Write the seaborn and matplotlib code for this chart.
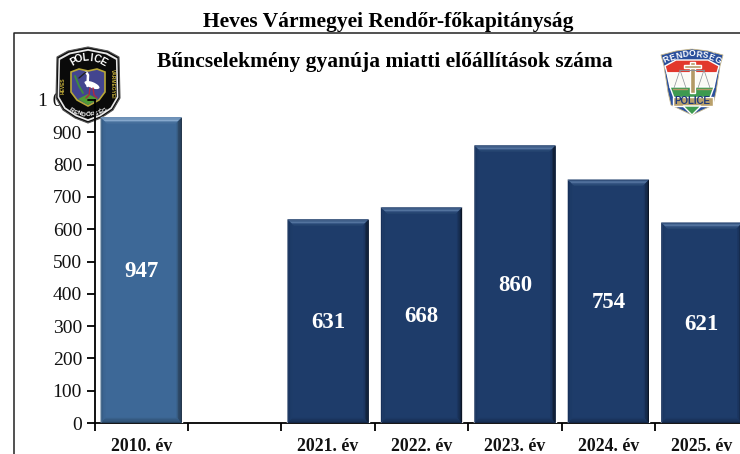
import numpy as np
import pandas as pd
import seaborn as sns
import matplotlib.pyplot as plt
from matplotlib.patches import Polygon, Ellipse, Rectangle

years = ["2010. év", " ", "2021. év", "2022. év", "2023. év", "2024. év", "2025. év"]
arrests = [947, np.nan, 631, 668, 860, 754, 621]
bar_colors = ["#3d6897", "#1e3c6a", "#1e3c6a", "#1e3c6a", "#1e3c6a", "#1e3c6a", "#1e3c6a"]
y_ticks = [0, 100, 200, 300, 400, 500, 600, 700, 800, 900, 1000]
y_labels = ["0", "100", "200", "300", "400", "500", "600", "700", "800", "900", "1 000"]

# bevel shades, outermost pixel first
bevel_light = {"top": ["#5a82ad", "#7da0c4", "#86a8cc", "#5f86b0", "#47709c"],
               "left": ["#33597f", "#375e88", "#3a6390", "#3c6694"],
               "right": ["#1c2c3e", "#25394f", "#2e4a68", "#365a80"],
               "bottom": ["#24405d", "#2f5070", "#34587e", "#38608a"]}
bevel_dark = {"top": ["#24426f", "#4a6a96", "#53739e", "#3a5a88", "#274772"],
              "left": ["#16305a", "#1a3662", "#1c3a66", "#1e3c68"],
              "right": ["#0b1526", "#101f38", "#162b4c", "#1b3560"],
              "bottom": ["#132646", "#172e52", "#1a345c", "#1c3864"]}

sns.set_theme(style="white")
plt.rcParams['font.family'] = ['Liberation Serif', 'DejaVu Serif']

W, H = 740, 454
fig = plt.figure(figsize=(W / 100, H / 100), dpi=100, facecolor="white")

# plot runs past the right edge of the picture, as in the original crop
ax = fig.add_axes([94.5 / W, (H - 423) / H, 654 / W, 323 / H], zorder=1)
df = pd.DataFrame({"year": years, "n": arrests})
sns.barplot(data=df, x="year", y="n", order=years, hue="year", hue_order=years,
            palette=bar_colors, width=0.87, saturation=1, legend=False, ax=ax)
ax.set_xlim(-0.5, 6.5)
ax.set_ylim(0, 1000)
ax.set_xlabel("")
ax.set_ylabel("")
ax.patch.set_alpha(0)
for s in ["top", "right"]:
    ax.spines[s].set_visible(False)
for s in ["left", "bottom"]:
    ax.spines[s].set_color("black")
    ax.spines[s].set_linewidth(1.3)
    ax.spines[s].set_zorder(2.8)

ax.set_yticks(y_ticks)
ax.set_yticklabels(y_labels, fontsize=14, color="#111111")
ax.tick_params(axis="y", length=6, width=1.3, color="black", left=True, pad=3)
ax.set_xticks(np.arange(-0.5, 7, 1))
ax.set_xticklabels([])
ax.set_xticks(np.arange(0, 7), minor=True)
ax.set_xticklabels(years, minor=True, fontsize=12.8, fontweight="bold", color="#111111")
ax.tick_params(axis="x", which="major", length=6, width=1.3, color="black", bottom=True)
ax.tick_params(axis="x", which="minor", length=0, pad=10.5)

px_x = 1.3 / 93.4
px_y = 1.3 / 0.323
for bar in list(ax.patches):
    h = bar.get_height()
    if not h or np.isnan(h):
        continue
    bar.set_zorder(3)
    x0 = bar.get_x()
    x1 = x0 + bar.get_width()
    shades = bevel_light if x0 < 0.5 else bevel_dark
    for i, c in enumerate(shades["top"]):
        a, b = i * px_x, (i + 1) * px_x
        t, u = i * px_y, (i + 1) * px_y
        ax.add_patch(Polygon([(x0 + a, h - t), (x1 - a, h - t), (x1 - b, h - u), (x0 + b, h - u)],
                             facecolor=c, edgecolor="none", zorder=3.2))
    for i, c in enumerate(shades["bottom"]):
        a, b = i * px_x, (i + 1) * px_x
        t, u = i * px_y, (i + 1) * px_y
        ax.add_patch(Polygon([(x0 + a, t), (x1 - a, t), (x1 - b, u), (x0 + b, u)],
                             facecolor=c, edgecolor="none", zorder=3.2))
    for i, c in enumerate(shades["left"]):
        a, b = i * px_x, (i + 1) * px_x
        t, u = i * px_y, (i + 1) * px_y
        ax.add_patch(Polygon([(x0 + a, t), (x0 + a, h - t), (x0 + b, h - u), (x0 + b, u)],
                             facecolor=c, edgecolor="none", zorder=3.1))
    for i, c in enumerate(shades["right"]):
        a, b = i * px_x, (i + 1) * px_x
        t, u = i * px_y, (i + 1) * px_y
        ax.add_patch(Polygon([(x1 - a, t), (x1 - a, h - t), (x1 - b, h - u), (x1 - b, u)],
                             facecolor=c, edgecolor="none", zorder=3.1))
    ax.annotate(f"{h:.0f}", (x0 + bar.get_width() / 2, h / 2), xytext=(0, -1.2),
                textcoords="offset points", ha="center", va="center",
                color="white", fontsize=16.5, fontweight="bold", zorder=4)

# overlay in pixel coordinates for frame, titles and right badge
ov = fig.add_axes([0, 0, 1, 1], zorder=2)
ov.set_xlim(0, W)
ov.set_ylim(H, 0)
ov.axis("off")
ov.plot([13.5, 13.5, W], [H, 32.5, 32.5], color="#222222", lw=1.1)
ov.text(388, 22.5, "Heves Vármegyei Rendőr-főkapitányság", ha="center", va="center",
        fontsize=15.5, fontweight="bold", color="black")
ov.text(384.5, 61.5, "Bűncselekmény gyanúja miatti előállítások száma", ha="center", va="center",
        fontsize=15.5, fontweight="bold", color="black")


def logo_poly(pts, color, z=2.6, edge="none", lw=0):
    # county badge sits over the tick labels but under the bars
    ax.add_patch(Polygon(pts, closed=True, facecolor=color, edgecolor=edge, lw=lw, zorder=z,
                         transform=ov.transData, clip_on=False))


def arc_text(target, text, cx, cy, r, a0, a1, size, color, bottom=False, z=2.7):
    angles = np.linspace(a0, a1, len(text))
    for ch, ang in zip(text, angles):
        rad = np.radians(ang)
        x = cx + r * np.sin(rad)
        y = cy + r * np.cos(rad) if bottom else cy - r * np.cos(rad)
        rot = ang if bottom else -ang
        target.text(x, y, ch, transform=ov.transData, ha="center", va="center", rotation=rot,
                    rotation_mode="anchor", color=color, fontsize=size, fontweight="bold",
                    family="Liberation Sans", zorder=z, clip_on=False)


# county police badge
shield = np.array([(57, 57), (68, 51), (88, 47), (108, 51), (119, 57), (120, 98), (113, 110), (101, 118),
                   (88, 123), (75, 118), (63, 110), (56, 98)], dtype=float)
center = np.array([88, 85])
logo_poly(shield, "#0a0a0a", edge="#555555", lw=0.8)
logo_poly(center + (shield - center) * 0.95, "#e8e8e8", z=2.61)
logo_poly(center + (shield - center) * 0.90, "#0a0a0a", z=2.62)
inner = [(71, 72), (79, 69), (88, 71), (97, 69), (105, 72), (105, 92), (99, 100), (88, 106), (77, 100), (71, 92)]
logo_poly(inner, "#43458f", z=2.63, edge="#b8a838", lw=1.2)
logo_poly([(78, 99), (88, 94), (98, 99), (88, 105)], "#4f9a35", z=2.64)
ax.add_patch(Ellipse((92, 85), 16, 6, angle=22, facecolor="white", edgecolor="none", zorder=2.65,
                     transform=ov.transData, clip_on=False))
for xs, ys, c, lw in [([87.5, 88, 86], [86, 75, 72], "white", 1.8),
                      ([86, 79], [72, 78], "#222222", 1),
                      ([90, 89, 86], [88, 95, 98], "#b02840", 1),
                      ([93, 94, 97], [88, 95, 98], "#b02840", 1),
                      ([75, 79, 83], [76, 86, 93], "#3f8a40", 1.4),
                      ([88, 94.5], [100, 100], "black", 1.3)]:
    ax.plot(xs, ys, color=c, lw=lw, zorder=2.66, transform=ov.transData, clip_on=False)
arc_text(ax, "POLICE", 88, 88, 30, -29, 29, 7.5, "white")
arc_text(ax, "RENDŐRSÉG", 88, 85, 30, -34, 34, 4.6, "white", bottom=True)
ax.text(63.5, 86, "HEVES", rotation=90, ha="center", va="center", color="#c8b23a", fontsize=3.5,
        fontweight="bold", family="Liberation Sans", transform=ov.transData, zorder=2.7, clip_on=False)
ax.text(112, 84, "VÁRMEGYEI", rotation=-90, ha="center", va="center", color="#c8b23a", fontsize=3.5,
        fontweight="bold", family="Liberation Sans", transform=ov.transData, zorder=2.7, clip_on=False)

# national police badge
ov.add_patch(Polygon([(661, 55), (676, 51), (692, 49), (708, 51), (723, 55), (720, 66), (716, 92), (713, 105),
                      (692, 115), (671, 105), (668, 92), (664, 66)], closed=True, facecolor="#2a4f9c",
                     edgecolor="#c9b98a", lw=0.6))
arc_text(ov, "RENDŐRSÉG", 692, 112, 58, -26, 26, 6.2, "white", z=5)
ov.add_patch(Polygon([(665, 66), (676, 60), (708, 60), (719, 66), (717, 73), (667, 73)], closed=True,
                     facecolor="#e2382c", zorder=3))
ov.add_patch(Polygon([(667, 73), (717, 73), (714, 87), (670, 87)], closed=True, facecolor="#fbfbf6", zorder=3))
ov.add_patch(Polygon([(670, 87), (714, 87), (710, 98), (674, 98)], closed=True, facecolor="#3e9a50", zorder=3))
ov.add_patch(Rectangle((690, 62), 5, 31, facecolor="#b39a66", zorder=4))
ov.add_patch(Rectangle((684, 65), 17, 3, facecolor="#b39a66", zorder=4))
ov.plot([680, 704], [70, 70], color="#8a8f96", lw=0.8, zorder=4)
for cx in [680, 704]:
    ov.plot([cx, cx - 6], [70, 88], color="#8a8f96", lw=0.5, zorder=4)
    ov.plot([cx, cx + 6], [70, 88], color="#8a8f96", lw=0.5, zorder=4)
    ov.plot([cx - 7, cx + 7], [89, 89], color="#b39a66", lw=1, zorder=4)
ov.add_patch(Rectangle((673, 97), 40, 9, facecolor="#b9a06a", zorder=4))
ov.text(692.5, 101.5, "POLICE", ha="center", va="center", color="#1f3a7a", fontsize=7, fontweight="bold",
        family="Liberation Sans", zorder=5)
ov.add_patch(Polygon([(683, 106), (701, 106), (692, 115)], closed=True, facecolor="#3e9a50", zorder=4))

fig.savefig("out.png", dpi=100)
